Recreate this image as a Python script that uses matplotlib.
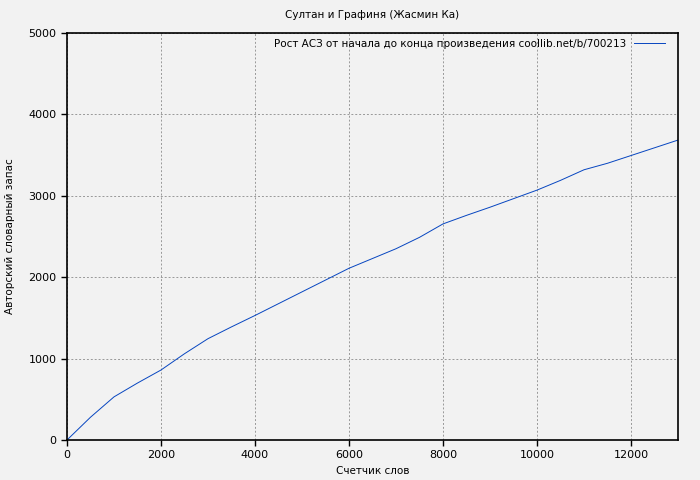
import matplotlib
matplotlib.use("Agg")
import matplotlib.pyplot as plt

# word count vs. author vocabulary
words = [0, 500, 1000, 1500, 2000, 2500, 3000, 3500, 4000, 5000, 6000,
         7000, 7500, 8000, 8500, 9000, 10000, 10500, 11000, 11500, 12000,
         12500, 13000]
vocab = [0, 280, 530, 700, 860, 1060, 1245, 1390, 1530, 1820, 2110,
         2350, 2490, 2655, 2760, 2860, 3070, 3190, 3320, 3400, 3495,
         3590, 3685]

title = "Султан и Графиня (Жасмин Ка)"
legend_label = "Рост АСЗ от начала до конца произведения coollib.net/b/700213"
xlabel = "Счетчик слов"
ylabel = "Авторский словарный запас"

plt.rcParams['font.family'] = ['DejaVu Sans']
fig = plt.figure(figsize=(7, 4.8), dpi=100, facecolor="#f2f2f2")
ax = fig.add_axes([0.0957, 0.0833, 0.8729, 0.8479])
ax.set_facecolor("#f2f2f2")

ax.plot(words, vocab, color="#0645c0", linewidth=0.7, label=legend_label)

ax.set_xlim(0, 13000)
ax.set_ylim(0, 5000)
ax.set_xticks(range(0, 13000, 2000))
ax.set_yticks(range(0, 5001, 1000))
ax.grid(True, color="#999999", linestyle=(0, (2, 2)), linewidth=0.7)
ax.tick_params(labelsize=8, length=4, width=1, direction="out")
for s in ax.spines.values():
    s.set_linewidth(1.2)

ax.set_xlabel(xlabel, fontsize=7.5, labelpad=4)
ax.set_ylabel(ylabel, fontsize=7.5, labelpad=10)
ax.set_title(title, fontsize=7.5, pad=11)

ax.legend(loc="upper right", bbox_to_anchor=(0.995, 1.012), frameon=False,
          fontsize=7.5, markerfirst=False, handlelength=2.9,
          handletextpad=0.8, borderaxespad=0.6)

fig.savefig("out.png", dpi=100, facecolor=fig.get_facecolor())
